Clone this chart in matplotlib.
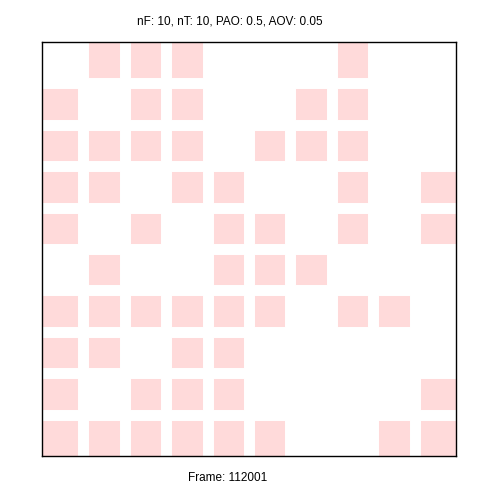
import numpy as np
import matplotlib
matplotlib.use('Agg')
import matplotlib.pyplot as plt
from matplotlib.colors import ListedColormap

n_f = 10
n_t = 10
pao = 0.5
aov = 0.05
frame = 112001

# occupied cells, one row per line from the top (1 = pink square)
grid = [
    [0, 1, 1, 1, 0, 0, 0, 1, 0, 0],
    [1, 0, 1, 1, 0, 0, 1, 1, 0, 0],
    [1, 1, 1, 1, 0, 1, 1, 1, 0, 0],
    [1, 1, 0, 1, 1, 0, 0, 1, 0, 1],
    [1, 0, 1, 0, 1, 1, 0, 1, 0, 1],
    [0, 1, 0, 0, 1, 1, 1, 0, 0, 0],
    [1, 1, 1, 1, 1, 1, 0, 1, 1, 0],
    [1, 1, 0, 1, 1, 0, 0, 0, 0, 0],
    [1, 0, 1, 1, 1, 0, 0, 0, 0, 1],
    [1, 1, 1, 1, 1, 1, 0, 0, 1, 1],
]

plt.rcParams['font.family'] = ['Liberation Sans', 'DejaVu Sans']

fig = plt.figure(figsize=(5, 5), dpi=100)
ax = fig.add_axes([0.084, 0.088, 0.828, 0.828])

data = np.array(grid)
cmap = ListedColormap(['white', '#ffdada'])
ax.imshow(data, cmap=cmap, vmin=0, vmax=1, extent=(0, n_f, n_t, 0),
          interpolation='nearest', aspect='auto')

# white gaps between cells
for k in range(1, n_f):
    ax.axvline(k, color='white', lw=7.9)
for k in range(1, n_t):
    ax.axhline(k, color='white', lw=7.9)

ax.set_xlim(0, n_f)
ax.set_ylim(n_t, 0)
ax.set_xticks([])
ax.set_yticks([])
for s in ax.spines.values():
    s.set_linewidth(1.0)

fig.text(0.46, 1 - 21 / 500, 'nF: %d, nT: %d, PAO: %s, AOV: %s' % (n_f, n_t, pao, aov),
         ha='center', va='center', fontsize=8.5)
fig.text(0.456, 1 - 478 / 500, 'Frame: %d' % frame,
         ha='center', va='center', fontsize=8.5)

fig.savefig('out.png', dpi=100)
